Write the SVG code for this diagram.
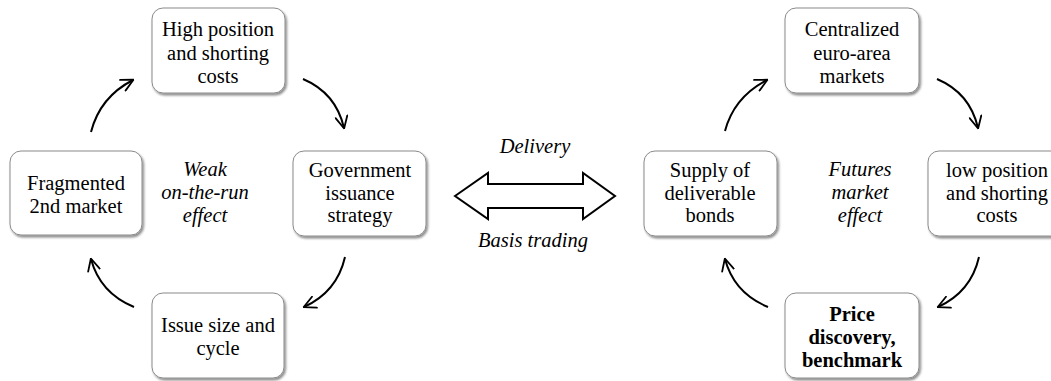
<svg xmlns="http://www.w3.org/2000/svg" width="1051" height="381" viewBox="0 0 1051 381">
<defs>
<filter id="sh" x="-10%" y="-10%" width="130%" height="130%">
<feDropShadow dx="1.5" dy="2" stdDeviation="1.2" flood-color="#000" flood-opacity="0.45"/>
</filter>
<marker id="ah" viewBox="0 0 14 14" refX="12.5" refY="7" markerWidth="14" markerHeight="14" markerUnits="userSpaceOnUse" orient="auto">
<path d="M1,1 L13,7 L1,13" fill="none" stroke="#000" stroke-width="1.8" stroke-linecap="round" stroke-linejoin="round"/>
</marker>
<style>
.box{fill:#fff;stroke:#8a8a8a;stroke-width:1;filter:url(#sh)}
.t{font-family:"Liberation Serif","Times New Roman",serif;font-size:20.5px;fill:#000;text-anchor:middle}
.i{font-style:italic}
.b{font-weight:bold}
.c{fill:none;stroke:#000;stroke-width:2;marker-end:url(#ah)}
</style>
</defs>
<rect width="1051" height="381" fill="#fff"/>

<g id="high-position">
<rect class="box" x="152" y="8" width="133" height="85" rx="11"/>
<text class="t" x="218" y="36">High position</text>
<text class="t" x="218" y="60">and shorting</text>
<text class="t" x="218" y="83">costs</text>
</g>
<g id="fragmented">
<rect class="box" x="10" y="151" width="132" height="84" rx="11"/>
<text class="t" x="76" y="190">Fragmented</text>
<text class="t" x="76" y="213">2nd market</text>
</g>
<g id="government">
<rect class="box" x="293" y="151" width="133" height="85" rx="11"/>
<text class="t" x="360" y="177">Government</text>
<text class="t" x="360" y="200">issuance</text>
<text class="t" x="360" y="222">strategy</text>
</g>
<g id="issue-size">
<rect class="box" x="152" y="293" width="132" height="85" rx="11"/>
<text class="t" x="218" y="332">Issue size and</text>
<text class="t" x="218" y="355">cycle</text>
</g>
<g id="weak-label">
<text class="t i" x="205" y="176">Weak</text>
<text class="t i" x="205" y="199">on-the-run</text>
<text class="t i" x="205" y="222">effect</text>
</g>

<g id="centralized">
<rect class="box" x="785" y="8" width="134" height="85" rx="11"/>
<text class="t" x="852" y="36">Centralized</text>
<text class="t" x="852" y="60">euro-area</text>
<text class="t" x="852" y="83">markets</text>
</g>
<g id="supply">
<rect class="box" x="644" y="151" width="133" height="85" rx="11"/>
<text class="t" x="710" y="177">Supply of</text>
<text class="t" x="710" y="200">deliverable</text>
<text class="t" x="710" y="222">bonds</text>
</g>
<g id="low-position">
<rect class="box" x="928" y="151" width="136" height="85" rx="11"/>
<text class="t" x="997" y="177">low position</text>
<text class="t" x="997" y="200">and shorting</text>
<text class="t" x="997" y="222">costs</text>
</g>
<g id="price-discovery">
<rect class="box" x="785" y="293" width="134" height="85" rx="11"/>
<text class="t b" x="852" y="321">Price</text>
<text class="t b" x="852" y="344">discovery,</text>
<text class="t b" x="852" y="367">benchmark</text>
</g>
<g id="futures-label">
<text class="t i" x="860" y="176">Futures</text>
<text class="t i" x="860" y="199">market</text>
<text class="t i" x="860" y="222">effect</text>
</g>

<g id="link">
<polygon points="455,196 488,173 488,184 583,184 583,173 615,196 583,219 583,208 488,208 488,219" fill="#fff" stroke="#000" stroke-width="2" stroke-linejoin="miter"/>
<text class="t i" x="535" y="153">Delivery</text>
<text class="t i" x="533" y="247">Basis trading</text>
</g>

<g id="connectors">
<path class="c" d="M91,132 Q100,97 133,80"/>
<path class="c" d="M303,79 Q336,93 344,128"/>
<path class="c" d="M345,257 Q337,292 304,307"/>
<path class="c" d="M134,307 Q100,293 91,259"/>
<path class="c" d="M725,131 Q734,97 767,80"/>
<path class="c" d="M937,79 Q970,93 978,128"/>
<path class="c" d="M979,257 Q971,292 938,307"/>
<path class="c" d="M768,307 Q734,293 725,259"/>
</g>
</svg>
